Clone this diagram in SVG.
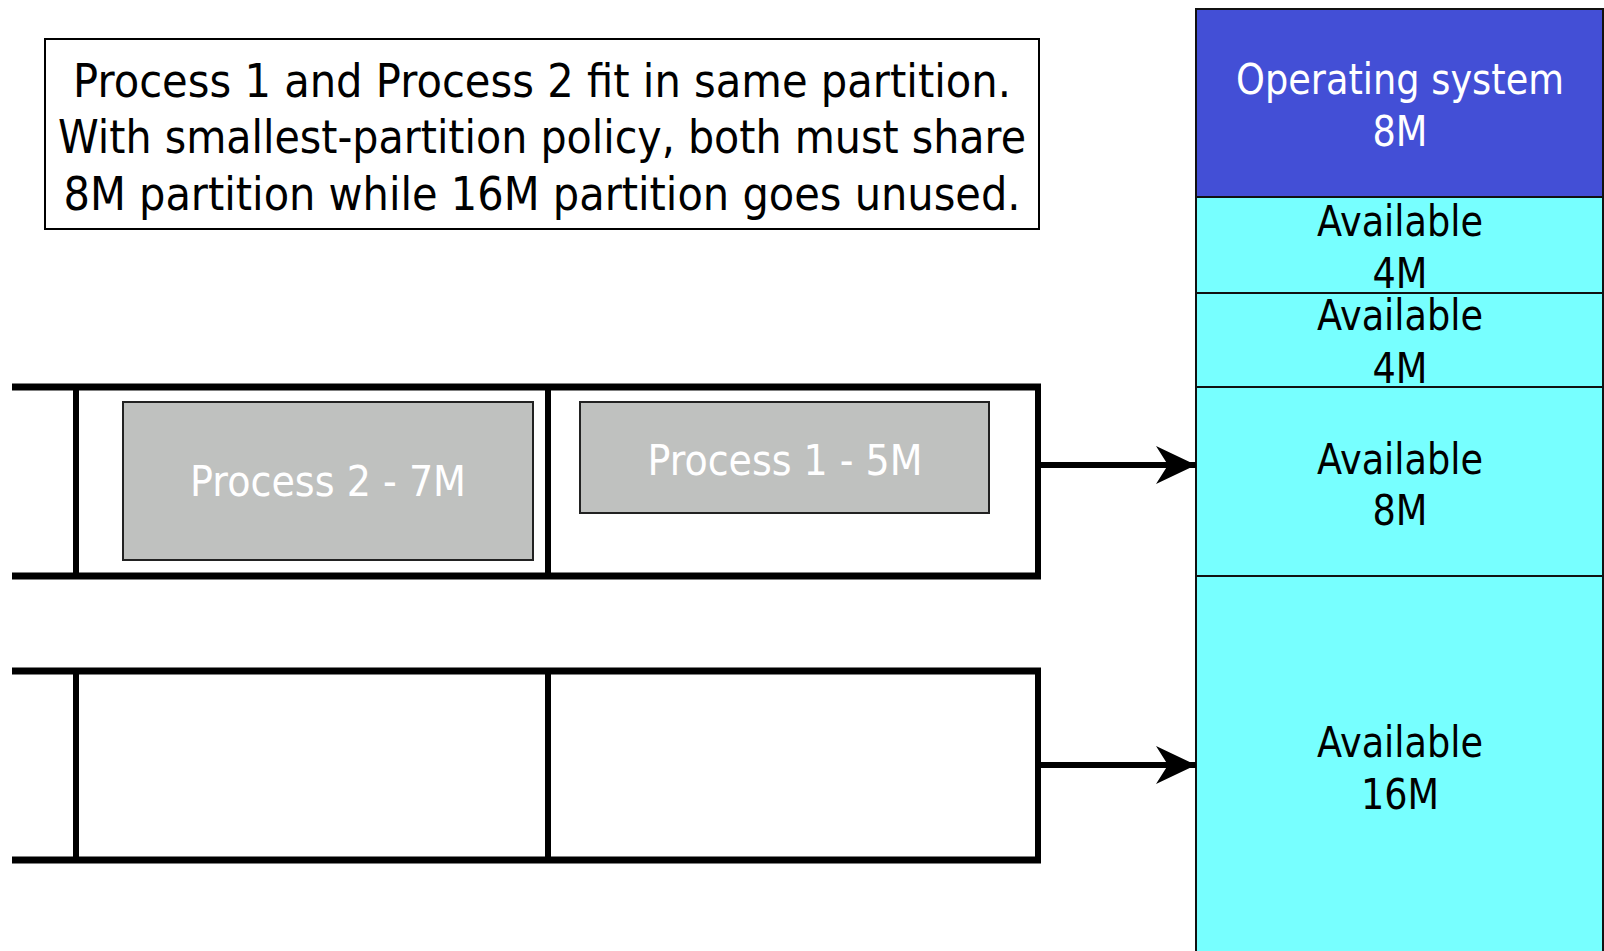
<svg xmlns="http://www.w3.org/2000/svg" width="1604" height="951" viewBox="0 0 1604 951">
<style>
text{font-family:"DejaVu Sans","Liberation Sans",sans-serif;text-anchor:middle}
.note{font-size:47px;fill:#000}
.proc{font-size:42px;fill:#fff}
.mem{font-size:42px;fill:#000}
.os{font-size:42px;fill:#fff}
.qh{stroke:#000;stroke-width:7}
.qv{stroke:#000;stroke-width:6}
.pbox{fill:#bfc1bf;stroke:#222;stroke-width:2}
.avail{fill:#77ffff;stroke:#111;stroke-width:2}
.conn{stroke:#000;stroke-width:6;fill:none}
</style>
<defs>
<marker id="ah" markerUnits="userSpaceOnUse" viewBox="0 0 40 38" refX="40" refY="19" markerWidth="40" markerHeight="38" orient="auto">
<path d="M0,0 L40,19 L0,38 L12,19 Z" fill="#000"/>
</marker>
</defs>
<rect width="1604" height="951" fill="#fff"/>

<g id="note">
<rect x="45" y="39" width="994" height="190" fill="#fff" stroke="#000" stroke-width="2"/>
<text class="note" x="542" y="97" textLength="938" lengthAdjust="spacingAndGlyphs">Process 1 and Process 2 fit in same partition.</text>
<text class="note" x="542" y="153" textLength="968" lengthAdjust="spacingAndGlyphs">With smallest-partition policy, both must share</text>
<text class="note" x="542" y="210" textLength="957" lengthAdjust="spacingAndGlyphs">8M partition while 16M partition goes unused.</text>
</g>

<g id="queue1">
<line class="qh" x1="12" y1="387" x2="1041" y2="387"/>
<line class="qh" x1="12" y1="576" x2="1041" y2="576"/>
<line class="qv" x1="76" y1="387" x2="76" y2="576"/>
<line class="qv" x1="548" y1="387" x2="548" y2="576"/>
<line class="qv" x1="1038" y1="387" x2="1038" y2="576"/>
</g>

<g id="process2">
<rect class="pbox" x="123" y="402" width="410" height="158"/>
<text class="proc" x="328" y="496" textLength="276" lengthAdjust="spacingAndGlyphs">Process 2 - 7M</text>
</g>

<g id="process1">
<rect class="pbox" x="580" y="402" width="409" height="111"/>
<text class="proc" x="785" y="475" textLength="275" lengthAdjust="spacingAndGlyphs">Process 1 - 5M</text>
</g>

<g id="queue2">
<line class="qh" x1="12" y1="671" x2="1041" y2="671"/>
<line class="qh" x1="12" y1="860" x2="1041" y2="860"/>
<line class="qv" x1="76" y1="671" x2="76" y2="860"/>
<line class="qv" x1="548" y1="671" x2="548" y2="860"/>
<line class="qv" x1="1038" y1="671" x2="1038" y2="860"/>
</g>

<g id="os">
<rect x="1196" y="9" width="407" height="188" fill="#434fd6" stroke="#111" stroke-width="2"/>
<text class="os" x="1400" y="94" textLength="328" lengthAdjust="spacingAndGlyphs">Operating system</text>
<text class="os" x="1400" y="146" textLength="55" lengthAdjust="spacingAndGlyphs">8M</text>
</g>

<g id="avail4a">
<rect class="avail" x="1196" y="197" width="407" height="96"/>
<text class="mem" x="1400" y="236" textLength="166" lengthAdjust="spacingAndGlyphs">Available</text>
<text class="mem" x="1400" y="288" textLength="55" lengthAdjust="spacingAndGlyphs">4M</text>
</g>

<g id="avail4b">
<rect class="avail" x="1196" y="293" width="407" height="94"/>
<text class="mem" x="1400" y="330" textLength="166" lengthAdjust="spacingAndGlyphs">Available</text>
<text class="mem" x="1400" y="383" textLength="55" lengthAdjust="spacingAndGlyphs">4M</text>
</g>

<g id="avail8">
<rect class="avail" x="1196" y="387" width="407" height="189"/>
<text class="mem" x="1400" y="474" textLength="166" lengthAdjust="spacingAndGlyphs">Available</text>
<text class="mem" x="1400" y="525" textLength="55" lengthAdjust="spacingAndGlyphs">8M</text>
</g>

<g id="avail16">
<rect class="avail" x="1196" y="576" width="407" height="380"/>
<text class="mem" x="1400" y="757" textLength="166" lengthAdjust="spacingAndGlyphs">Available</text>
<text class="mem" x="1400" y="809" textLength="78" lengthAdjust="spacingAndGlyphs">16M</text>
</g>

<g id="connectors">
<path class="conn" d="M1041,465 L1196,465" marker-end="url(#ah)"/>
<path class="conn" d="M1041,765 L1196,765" marker-end="url(#ah)"/>
</g>
</svg>
